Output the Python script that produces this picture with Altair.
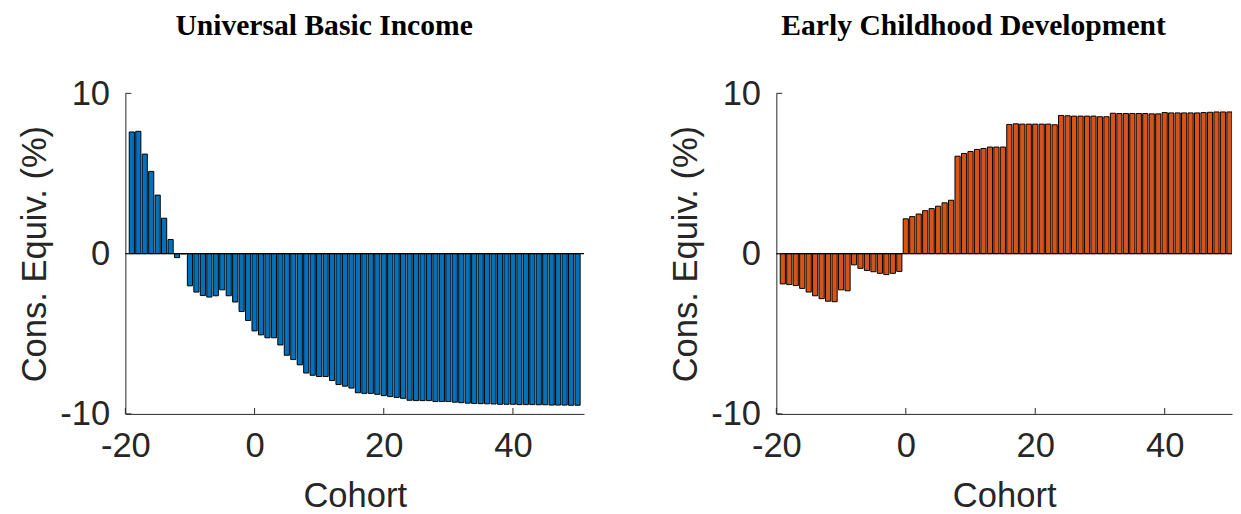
import altair as alt
import pandas as pd

cohorts = list(range(-19, 51))

ubi = [7.59, 7.63, 6.21, 5.13, 3.65, 2.21, 0.88, -0.25, -0.02, -2.01,
       -2.40, -2.61, -2.71, -2.63, -2.26, -2.63, -3.02, -3.61, -4.17, -4.82,
       -5.07, -5.25, -5.25, -5.70, -6.34, -6.61, -6.94, -7.45, -7.59, -7.67,
       -7.67, -7.92, -8.17, -8.27, -8.39, -8.68, -8.72, -8.72, -8.78, -8.86,
       -8.92, -8.97, -9.03, -9.15, -9.17, -9.17, -9.17, -9.23, -9.23, -9.23,
       -9.27, -9.30, -9.33, -9.35, -9.36, -9.37, -9.38, -9.40, -9.40, -9.40,
       -9.42, -9.42, -9.42, -9.43, -9.43, -9.45, -9.45, -9.45, -9.46, -9.46]

ecd = [-1.89, -1.93, -1.99, -2.17, -2.40, -2.63, -2.81, -2.97, -3.00, -2.26,
       -2.32, -0.70, -0.92, -1.05, -1.13, -1.23, -1.31, -1.23, -1.11, 2.17,
       2.31, 2.47, 2.68, 2.81, 2.96, 3.17, 3.33, 6.08, 6.25, 6.37,
       6.50, 6.56, 6.65, 6.65, 6.65, 8.06, 8.10, 8.08, 8.08, 8.08,
       8.08, 8.08, 8.04, 8.62, 8.60, 8.58, 8.58, 8.58, 8.58, 8.54,
       8.54, 8.76, 8.74, 8.74, 8.74, 8.74, 8.74, 8.72, 8.72, 8.80,
       8.78, 8.78, 8.78, 8.78, 8.78, 8.80, 8.82, 8.84, 8.84, 8.84]

x_ticks = [-20, 0, 20, 40]
y_ticks = [-10, 0, 10]
titles = ["Universal Basic Income", "Early Childhood Development"]
colors = ["#0072BD", "#D95319"]

H = 325
AX = "#262626"
LBL = "replace(datum.label, '\u2212', '-')"


def panel(vals, title, color, width, xmax):
    df = pd.DataFrame({"cohort": cohorts, "value": vals})
    xs = alt.Scale(domain=[-20, xmax], nice=False, zero=False)
    ys = alt.Scale(domain=[-10, 10], nice=False, zero=False)
    xaxis = alt.Axis(values=x_ticks, ticks=False, labelPadding=15, titlePadding=16,
                     labelFlush=False, labelOverlap=False, labelExpr=LBL, grid=False)
    yaxis = alt.Axis(values=y_ticks, ticks=False, labelPadding=16, titlePadding=7,
                     labelOverlap=False, labelExpr=LBL, grid=False)
    bars = alt.Chart(df).transform_calculate(
        lo="datum.cohort - 0.4", hi="datum.cohort + 0.4"
    ).mark_bar(color=color, stroke="black", strokeWidth=1, clip=True).encode(
        x=alt.X("lo:Q", scale=xs, axis=xaxis, title="Cohort"),
        x2="hi:Q",
        y=alt.Y("value:Q", scale=ys, axis=yaxis, title="Cons. Equiv. (%)"),
        y2=alt.datum(0),
    )
    base = alt.Chart(pd.DataFrame({"z": [0]})).mark_rule(color="black", strokeWidth=1.2).encode(
        y=alt.Y("z:Q", scale=ys, axis=yaxis, title="Cons. Equiv. (%)"),
        x=alt.value(0), x2=alt.value(width),
    )
    xt = alt.Chart(pd.DataFrame({"t": x_ticks})).mark_rule(color=AX).encode(
        x=alt.X("t:Q", scale=xs, axis=xaxis, title="Cohort"),
        y=alt.value(H), y2=alt.value(H - 6),
    )
    yt = alt.Chart(pd.DataFrame({"t": y_ticks})).mark_rule(color=AX).encode(
        y=alt.Y("t:Q", scale=ys, axis=yaxis, title="Cons. Equiv. (%)"),
        x=alt.value(0), x2=alt.value(6),
    )
    return alt.layer(bars, base, xt, yt).properties(
        width=width, height=H,
        title=alt.TitleParams(title, font="Liberation Serif", fontSize=30, fontWeight="bold",
                              color="black", anchor="middle", dx=-31, offset=36),
    )


left = panel(ubi, titles[0], colors[0], 465, 51)
right = panel(ecd, titles[1], colors[1], 462, 50.4)

chart = alt.hconcat(left, right, spacing=85).properties(
    padding={"left": 10, "top": 0, "right": 0, "bottom": 0}
).configure_view(stroke=None).configure_axis(
    domainColor=AX, domainWidth=1,
    labelFont="Liberation Sans", labelFontSize=35, labelColor=AX,
    titleFont="Liberation Sans", titleFontSize=35, titleColor=AX, titleFontWeight="normal",
)

chart.save("out.html", embed_options={"renderer": "svg", "actions": False})
